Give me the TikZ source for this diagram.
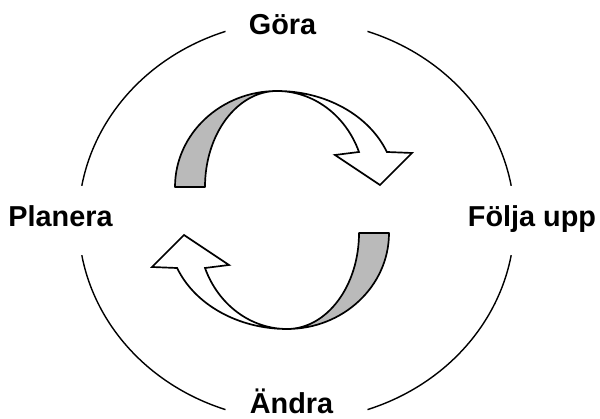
\documentclass[tikz,border=0pt]{standalone}
\usepackage{fontspec}
\setmainfont{Liberation Sans}
\usetikzlibrary{positioning, calc}

\begin{document}
\begin{tikzpicture}[
    x=0.025cm,
    y=0.025cm,
    etikett/.style={
        font=\fontsize{20.5}{24}\selectfont\bfseries,
        inner sep=0pt,
        anchor=base
    },
    ring/.style={
        line width=1pt
    },
    band/.style={
        draw=black,
        line width=1.2pt,
        fill=black!27,
        line join=round
    },
    pil/.style={
        draw=black,
        line width=1.2pt,
        fill=white,
        line join=miter
    },
    pics/halvpil/.style={
        code={
            % baksida (skuggad)
            \draw[band] (-102,0)
                arc[start angle=180, end angle=90, x radius=102, y radius=96]
                arc[start angle=90, end angle=180, x radius=72, y radius=96]
                -- cycle;
            % framsida med pilspets
            \draw[pil] (0,96)
                arc[start angle=90, end angle=21.4, x radius=118, y radius=96]
                -- (135,34) -- (103,2) -- (58,32) -- (82,35)
                arc[start angle=21.4, end angle=90, x radius=88, y radius=96]
                -- cycle;
        }
    }
]

\useasboundingbox (0,0) rectangle (600,419);

% ---------------- Etiketter ----------------

\node[etikett] (goera) at (282.5,384) {Göra};

\node[etikett] (planera) at (60.5,192) {Planera};

\node[etikett] (foelja) at (532,192) {Följa upp};

\node[etikett] (aendra) at (291.5,5) {Ändra};

% ---------------- Cirkel ----------------

\coordinate (mitt) at (296.5,198.5);

\draw[ring] (mitt) ++(10:218 and 200)
    arc[start angle=10, end angle=71, x radius=218, y radius=200];
\draw[ring] (mitt) ++(109:218 and 200)
    arc[start angle=109, end angle=170, x radius=218, y radius=200];
\draw[ring] (mitt) ++(190:218 and 200)
    arc[start angle=190, end angle=251, x radius=218, y radius=200];
\draw[ring] (mitt) ++(289:218 and 200)
    arc[start angle=289, end angle=350, x radius=218, y radius=200];

% ---------------- Pilar ----------------

\pic (oevre) at (277,232) {halvpil};

\pic[rotate=180] (nedre) at (287,186) {halvpil};

\end{tikzpicture}
\end{document}
